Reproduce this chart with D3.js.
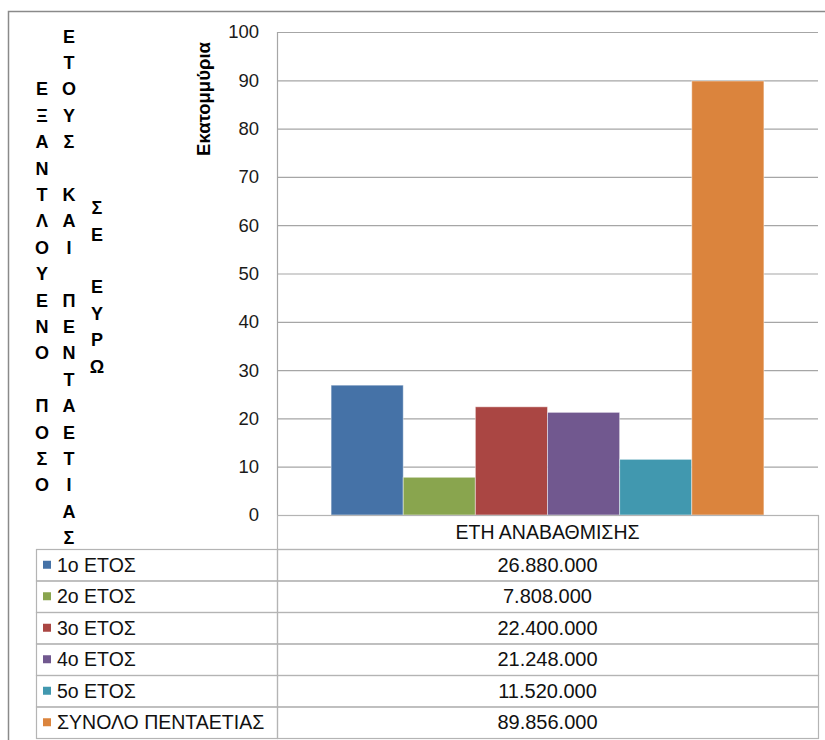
<!DOCTYPE html>
<meta charset="utf-8">
<head>
<script src="https://cdn.jsdelivr.net/npm/d3@7"></script>
<style>
	body { margin: 0; background: #fff; }
	text { font-family: "Liberation Sans", Arial, sans-serif; }
</style>
</head>
<body>
<div id="chart"></div>
<script>

	var category = "ΕΤΗ ΑΝΑΒΑΘΜΙΣΗΣ";
	var seriesNames = ["1ο ΕΤΟΣ", "2ο ΕΤΟΣ", "3ο ΕΤΟΣ", "4ο ΕΤΟΣ", "5ο ΕΤΟΣ", "ΣΥΝΟΛΟ ΠΕΝΤΑΕΤΙΑΣ"];
	var seriesValues = [26880000, 7808000, 22400000, 21248000, 11520000, 89856000];
	var seriesColors = ["#4572A7", "#89A54E", "#AA4643", "#71588F", "#4198AF", "#DB843D"];
	var yTicks = [0, 10, 20, 30, 40, 50, 60, 70, 80, 90, 100];
	var yTitle = "Εκατομμύρια";
	var stackedTitle = ["ΕΞΑΝΤΛΟΥΕΝΟ ΠΟΣΟ", "ΕΤΟΥΣ ΚΑΙ ΠΕΝΤΑΕΤΙΑΣ", "ΣΕ ΕΥΡΩ"];

	var width = 825, height = 740;
	var plot = { left: 277, right: 818, top: 32, bottom: 515 };
	var table = { left: 36, split: 277, right: 818, rowH: 31.5 };

	var grLocale = d3.formatLocale({ decimal: ",", thousands: ".", grouping: [3], currency: ["", "€"] });
	var fmt = grLocale.format(",d");

	var svg = d3.select("#chart").append("svg")
		.attr("width", width)
		.attr("height", height);

	// outer chart border
	svg.append("path")
		.attr("d", "M8.5," + (height + 5) + "V11.5H" + (width + 5))
		.attr("fill", "none")
		.attr("stroke", "#8a8a8a")
		.attr("stroke-width", 1.5);

	var y = d3.scaleLinear()
		.domain([0, 100])
		.range([plot.bottom, plot.top]);

	var x0 = d3.scaleBand()
		.domain([category])
		.range([plot.left, plot.right])
		.paddingInner(0)
		.paddingOuter(0.125);

	var x1 = d3.scaleBand()
		.domain(seriesNames)
		.range([0, x0.bandwidth()]);

	// gridlines + tick labels
	var yAxis = svg.append("g")
		.attr("transform", "translate(" + plot.left + ",0)")
		.call(d3.axisLeft(y)
			.tickValues(yTicks)
			.tickSize(-(plot.right - plot.left))
			.tickPadding(18));
	yAxis.select(".domain").remove();
	yAxis.selectAll(".tick line")
		.attr("stroke", "#a6a6a6")
		.attr("stroke-width", 1.2);
	yAxis.selectAll(".tick text")
		.attr("font-size", "18.5px")
		.attr("fill", "#1a1a1a");

	// left vertical axis line
	svg.append("line")
		.attr("x1", plot.left + 0.5).attr("x2", plot.left + 0.5)
		.attr("y1", plot.top).attr("y2", plot.bottom)
		.attr("stroke", "#a6a6a6")
		.attr("stroke-width", 1.2);

	// bars
	var data = seriesNames.map(function (n, i) {
		return { name: n, value: seriesValues[i], color: seriesColors[i] };
	});

	svg.append("g")
		.selectAll("rect")
		.data(data)
		.enter().append("rect")
		.attr("x", function (d) { return x0(category) + x1(d.name); })
		.attr("width", x1.bandwidth())
		.attr("y", function (d) { return y(d.value / 1e6); })
		.attr("height", function (d) { return plot.bottom - y(d.value / 1e6); })
		.attr("fill", function (d) { return d.color; })
		.attr("stroke", "#ffffff")
		.attr("stroke-opacity", 0.45)
		.attr("stroke-width", 1);

	// y axis title
	svg.append("text")
		.attr("transform", "translate(210,99) rotate(-90)")
		.attr("text-anchor", "middle")
		.attr("font-size", "18.5px")
		.attr("font-weight", "bold")
		.text(yTitle);

	// stacked title (letters one under another)
	var colX = [42, 69, 97];
	var lineH = 26.4, midY = 287;
	stackedTitle.forEach(function (s, c) {
		var chars = s.split("");
		svg.append("g")
			.selectAll("text")
			.data(chars)
			.enter().append("text")
			.attr("x", colX[c])
			.attr("y", function (d, i) { return midY + (i - (chars.length - 1) / 2) * lineH; })
			.attr("dy", "0.36em")
			.attr("text-anchor", "middle")
			.attr("font-size", "18px")
			.attr("font-weight", "bold")
			.text(function (d) { return d; });
	});

	// data table
	var tableG = svg.append("g");
	var lineColor = "#b4b4b4";
	var rowY = function (i) { return plot.bottom + 34 + i * table.rowH; };

	// category header cell
	tableG.append("rect")
		.attr("x", table.split + 0.5)
		.attr("y", plot.bottom + 0.5)
		.attr("width", table.right - table.split)
		.attr("height", 34)
		.attr("fill", "none")
		.attr("stroke", lineColor)
		.attr("stroke-width", 1.2);

	tableG.append("text")
		.attr("x", x0(category) + x0.bandwidth() / 2)
		.attr("y", plot.bottom + 17)
		.attr("dy", "0.36em")
		.attr("text-anchor", "middle")
		.attr("font-size", "19.5px")
		.attr("fill", "#111")
		.text(category);

	var rows = tableG.selectAll(".row")
		.data(data)
		.enter().append("g")
		.attr("class", "row");

	rows.append("rect")
		.attr("x", table.left + 0.5)
		.attr("y", function (d, i) { return rowY(i) + 0.5; })
		.attr("width", table.split - table.left)
		.attr("height", table.rowH)
		.attr("fill", "none")
		.attr("stroke", lineColor)
		.attr("stroke-width", 1.2);

	rows.append("rect")
		.attr("x", table.split + 0.5)
		.attr("y", function (d, i) { return rowY(i) + 0.5; })
		.attr("width", table.right - table.split)
		.attr("height", table.rowH)
		.attr("fill", "none")
		.attr("stroke", lineColor)
		.attr("stroke-width", 1.2);

	rows.append("rect")
		.attr("x", 43)
		.attr("y", function (d, i) { return rowY(i) + table.rowH / 2 - 4; })
		.attr("width", 8)
		.attr("height", 8)
		.attr("fill", function (d) { return d.color; });

	rows.append("text")
		.attr("x", 57)
		.attr("y", function (d, i) { return rowY(i) + table.rowH / 2; })
		.attr("dy", "0.36em")
		.attr("font-size", "19.5px")
		.attr("fill", "#111")
		.text(function (d) { return d.name; });

	rows.append("text")
		.attr("x", x0(category) + x0.bandwidth() / 2)
		.attr("y", function (d, i) { return rowY(i) + table.rowH / 2; })
		.attr("dy", "0.36em")
		.attr("text-anchor", "middle")
		.attr("font-size", "20px")
		.attr("fill", "#111")
		.text(function (d) { return fmt(d.value); });

</script>
</body>
